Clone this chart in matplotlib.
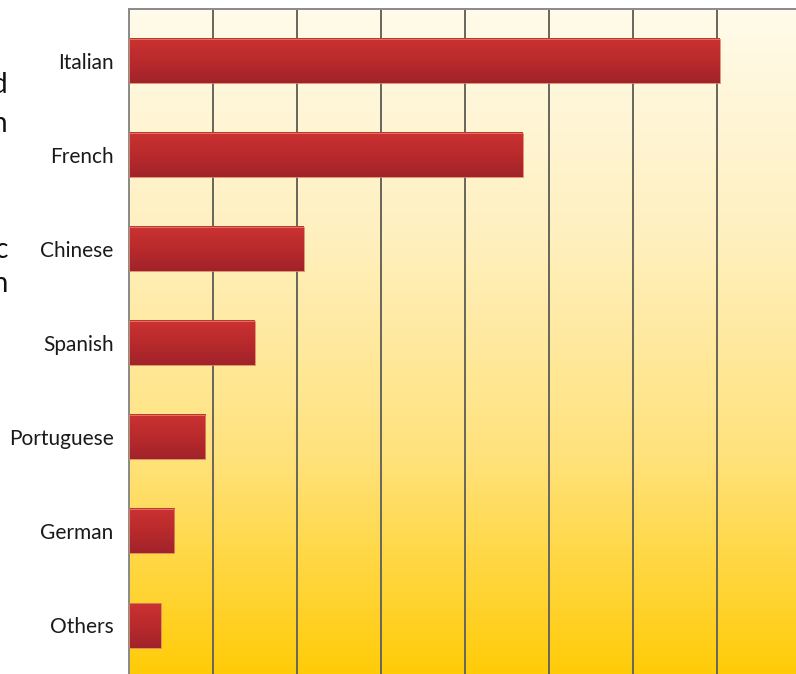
import numpy as np
import matplotlib.pyplot as plt
from matplotlib.colors import LinearSegmentedColormap

plt.rcParams['font.family'] = ['Lato', 'DejaVu Sans']

cuisines = ['Italian', 'French', 'Chinese', 'Spanish', 'Portuguese', 'German', 'Others']
shares = [70.3, 46.9, 20.8, 15.0, 9.1, 5.4, 3.8]

# side caption, only the line endings fall inside the canvas
side_lines = ['Number of restaurants surveyed', 'by type of cuisine, shown in',
              'excluding domestic', 'cuisine, per region']
side_y = [85, 124, 250, 284]   # pixel rows from top

W, H = 796, 674
fig = plt.figure(figsize=(W / 100, H / 100), dpi=100)

# axes runs off the right and bottom edges of the canvas
left, right, top, bottom = 129, 801, 9, 680
ax = fig.add_axes([left / W, 1 - bottom / H, (right - left) / W, (bottom - top) / H])
ax.set_axisbelow(True)

xmax = 80
ylo, yhi = 6.58, -0.55
y = np.arange(len(cuisines))

# cream-to-gold background
bg = LinearSegmentedColormap.from_list('bg', ['#fffbea', '#fff0c0', '#ffe27c', '#ffcb05'])
grad = np.linspace(0, 1, 256).reshape(-1, 1)
ax.imshow(grad, cmap=bg, aspect='auto', extent=(0, xmax, ylo, yhi),
          origin='upper', interpolation='bilinear', zorder=0)

# red bars with a vertical shading
bar_cmap = LinearSegmentedColormap.from_list('bar', ['#cb3232', '#b92a2c', '#a0232a'])
h = 0.47
bars = ax.barh(y, shares, height=h, color='none', edgecolor='#dc8466',
               linewidth=0.6, zorder=3)
for yi, v in zip(y, shares):
    ax.imshow(grad, cmap=bar_cmap, aspect='auto',
              extent=(0, v, yi + h / 2, yi - h / 2), origin='upper',
              interpolation='bilinear', zorder=2)

ax.set_xlim(0, xmax)
ax.set_ylim(ylo, yhi)

ax.set_xticks(np.arange(0, xmax + 1, 10))
ax.grid(axis='x', color='#66665c', linewidth=1.4)
ax.tick_params(axis='x', length=0, labelbottom=False)

ax.set_yticks(y)
ax.set_yticklabels(cuisines, fontsize=15, color='#1a1a1a')
ax.tick_params(axis='y', length=0, pad=11)
for lab in ax.get_yticklabels():
    lab.set_va('center_baseline')

for s in ['right', 'bottom']:
    ax.spines[s].set_visible(False)
for s in ['top', 'left']:
    ax.spines[s].set_color('#8a8a8a')
    ax.spines[s].set_linewidth(1.4)

for txt, py in zip(side_lines, side_y):
    fig.text(8 / W, 1 - py / H, txt, ha='right', va='center',
             fontsize=20, color='#111111')

fig.savefig('out.png', dpi=100)
